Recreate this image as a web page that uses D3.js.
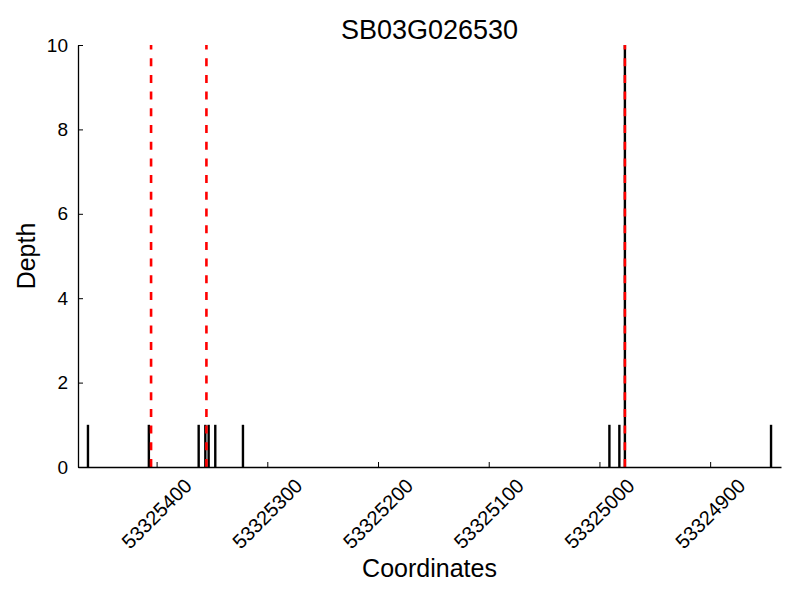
<!DOCTYPE html>
<html>
<head>
<meta charset="utf-8">
<script src="https://cdn.jsdelivr.net/npm/d3@7"></script>
<style>
  html, body { margin: 0; padding: 0; background: #fff; }
  svg { display: block; }
  text { font-family: "Liberation Sans", Arial, Helvetica, sans-serif; fill: #000; }
</style>
</head>
<body>
<svg id="chart" width="800" height="600"></svg>
<script>
const title = "SB03G026530";
const xLabel = "Coordinates";
const yLabel = "Depth";
const readCoords = [53325462, 53325407, 53325362, 53325356, 53325353, 53325347, 53325322, 53324991, 53324982, 53324977, 53324845];
const readDepths = [1, 1, 1, 1, 1, 1, 1, 1, 1, 10, 1];
const markerCoords = [53325405, 53325355, 53324977];
const xTicks = [53325400, 53325300, 53325200, 53325100, 53325000, 53324900];
const yTicks = [0, 2, 4, 6, 8, 10];
const xDomain = [53325471, 53324836];
const yDomain = [0, 10];

const svg = d3.select("#chart");
const m = { left: 78, right: 781, top: 45, bottom: 467 };

const x = d3.scaleLinear().domain(xDomain).range([m.left, m.right]);
const y = d3.scaleLinear().domain(yDomain).range([m.bottom, m.top]);

// Read bars
svg.append("g").selectAll("line").data(readCoords).join("line")
  .attr("x1", d => x(d)).attr("x2", d => x(d))
  .attr("y1", y(0)).attr("y2", (d, i) => y(Math.min(readDepths[i], yDomain[1])))
  .attr("stroke", "#000").attr("stroke-width", 2.4);

// Marker lines (red dashed)
svg.append("g").selectAll("line").data(markerCoords).join("line")
  .attr("x1", d => x(d)).attr("x2", d => x(d))
  .attr("y1", y(yDomain[0])).attr("y2", y(yDomain[1]))
  .attr("stroke", "#ff0000").attr("stroke-width", 2.6)
  .attr("stroke-dasharray", "8,8.7");

// Axes
const xAxis = d3.axisBottom(x).tickValues(xTicks).tickSizeInner(-5).tickSizeOuter(0).tickFormat("");
const gx = svg.append("g").attr("transform", `translate(0,${m.bottom})`).call(xAxis);
gx.select(".domain").attr("stroke", "#000").attr("stroke-width", 1.3);
gx.selectAll(".tick line").attr("stroke", "#000").attr("stroke-width", 1);

const yAxis = d3.axisLeft(y).tickValues(yTicks).tickSizeInner(-5).tickSizeOuter(0).tickPadding(10);
const gy = svg.append("g").attr("transform", `translate(${m.left},0)`).call(yAxis);
gy.select(".domain").attr("stroke", "#000").attr("stroke-width", 1.3);
gy.selectAll(".tick line").attr("stroke", "#000").attr("stroke-width", 1);
gy.selectAll(".tick text").attr("font-size", 19).attr("font-family", "Liberation Sans, Arial, sans-serif").attr("fill", "#000");

// Rotated x tick labels (bbox centered on tick)
const labelG = svg.append("g");
xTicks.forEach(v => {
  const t = labelG.append("text")
    .attr("font-size", 20)
    .attr("text-anchor", "middle")
    .attr("dominant-baseline", "central")
    .text(String(v));
  const L = t.node().getComputedTextLength();
  const h = 14.5;
  const half = (L + h) / (2 * Math.SQRT2);
  t.attr("transform", `translate(${x(v)},${m.bottom + 10 + half}) rotate(-45)`);
});

// Titles
svg.append("text").attr("x", (m.left + m.right) / 2).attr("y", 39)
  .attr("text-anchor", "middle").attr("font-size", 27).text(title);
svg.append("text").attr("x", (m.left + m.right) / 2).attr("y", 577)
  .attr("text-anchor", "middle").attr("font-size", 25).text(xLabel);
svg.append("text").attr("transform", `translate(35,${(m.top + m.bottom) / 2}) rotate(-90)`)
  .attr("text-anchor", "middle").attr("font-size", 25).text(yLabel);
</script>
</body>
</html>
